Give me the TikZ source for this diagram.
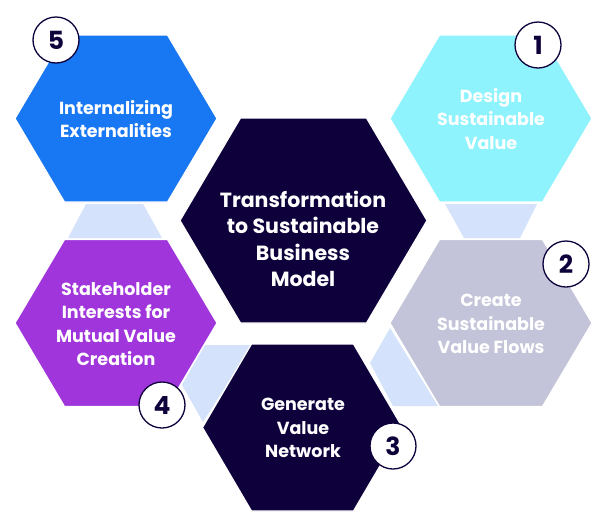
\documentclass[tikz,border=0pt]{standalone}
\usepackage{fontspec}
\setmainfont{Poppins}
\definecolor{navy}{HTML}{0E003A}
\definecolor{hexblue}{HTML}{1877F2}
\definecolor{hexcyan}{HTML}{8EF3FC}
\definecolor{hexpurple}{HTML}{A035DC}
\definecolor{hexgray}{HTML}{C3C3D9}
\definecolor{linkblue}{HTML}{D4E3FB}
\newcommand\hexshape[6]{%
  \fill[#6, draw=white, line width=1.2pt] (#1-#3,#2) -- (#1-#5,#2-#4) -- (#1+#5,#2-#4) -- (#1+#3,#2) -- (#1+#5,#2+#4) -- (#1-#5,#2+#4) -- cycle;}
\begin{document}
\begin{tikzpicture}[x=1pt,y=-1pt,
  hextext/.style={text=white, font=\bfseries\fontsize{17.5}{23.3}\selectfont, align=center},
  bigtext/.style={text=white, font=\bfseries\fontsize{20.5}{26.5}\selectfont, align=center},
  numcirc/.style={circle, draw=navy, fill=white, line width=1.3pt, minimum size=46pt, inner sep=0pt, text=navy, font=\bfseries\fontsize{25}{25}\selectfont},
  link/.style={fill=linkblue}]
\useasboundingbox (0,0) rectangle (600,520);
\fill[white] (0,0) rectangle (600,520);
% connectors
\fill[link] (86,204) -- (143,204) -- (162,238) -- (68,238) -- cycle;
\fill[link] (445,204) -- (537,204) -- (520,238) -- (464,238) -- cycle;
\fill[link] (205,345) -- (252,345) -- (203,422) -- (182,385) -- cycle;
\fill[link] (390,328) -- (370,363) -- (393,406) -- (438,406) -- cycle;
% hexagons
\hexshape{116}{118.5}{101}{83.5}{51.5}{hexblue}
\hexshape{491}{118.5}{101}{83.5}{51.5}{hexcyan}
\hexshape{116}{323}{101}{83.5}{51.5}{hexpurple}
\hexshape{491}{323}{101}{83.5}{51.5}{hexgray}
\hexshape{302.5}{427.5}{100}{83.5}{51}{navy}
\hexshape{303.5}{220.5}{123.5}{102.5}{63}{navy}
% texts
\node[hextext] (t5) at (116,119) {Internalizing\\Externalities};
\node[hextext] (t1) at (491,119) {Design\\Sustainable\\Value};
\node[hextext] (t4) at (116,324) {Stakeholder\\Interests for\\Mutual Value\\Creation};
\node[hextext] (t2) at (491,324) {Create\\Sustainable\\Value Flows};
\node[hextext] (t3) at (303,428) {Generate\\Value\\Network};
\node[bigtext] (tc) at (303,239) {Transformation\\to Sustainable\\Business\\Model};
% number circles
\node[numcirc] (n5) at (56,40) {5};
\node[numcirc] (n1) at (538,45) {1};
\node[numcirc] (n2) at (566,264) {2};
\node[numcirc] (n4) at (162,405) {4};
\node[numcirc] (n3) at (393,446) {3};
\end{tikzpicture}
\end{document}
